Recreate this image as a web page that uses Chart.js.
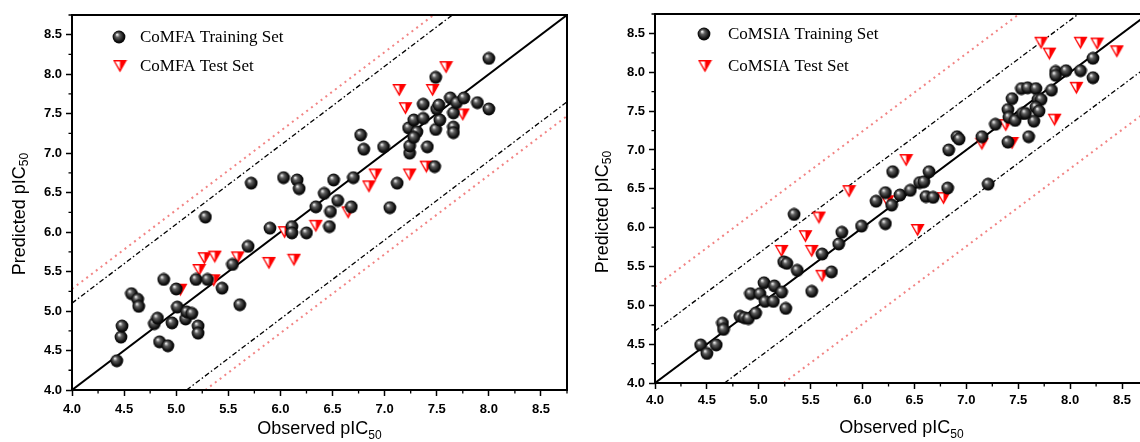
<!DOCTYPE html>
<html>
<head>
<meta charset="utf-8">
<script src="https://cdn.jsdelivr.net/npm/chart.js@4.4.0/dist/chart.umd.min.js"></script>
<style>
  html, body { margin: 0; padding: 0; background: #fff; }
  body { width: 1140px; height: 442px; overflow: hidden; position: relative; }
  .panel { position: absolute; top: 0; width: 580px; height: 442px; }
</style>
</head>
<body>
<div class="panel" style="left:0"><canvas id="comfa" width="580" height="442"></canvas></div>
<div class="panel" style="left:580px"><canvas id="comsia" width="580" height="442"></canvas></div>
<script>
// axis range and tick labels (both panels)
const axisMin = 4.0;
const axisMax = 8.75;
const tickValues = [4.0, 4.5, 5.0, 5.5, 6.0, 6.5, 7.0, 7.5, 8.0, 8.5];

// CoMFA: observed vs predicted pIC50
const comfaTrainObs = [4.43, 4.47, 4.48, 4.57, 4.63, 4.64, 4.79, 4.82, 4.84, 4.92, 4.88, 4.96, 5.00, 5.01, 5.09, 5.10, 5.15, 5.21, 5.21, 5.19, 5.28, 5.30, 5.44, 5.54, 5.61, 5.69, 5.72, 5.90, 6.03, 6.11, 6.11, 6.16, 6.18, 6.25, 6.34, 6.42, 6.48, 6.47, 6.55, 6.51, 6.68, 6.70, 7.05, 7.12, 6.77, 6.80, 6.99, 7.24, 7.24, 7.41, 7.48, 7.23, 7.28, 7.31, 7.37, 7.28, 7.49, 7.53, 7.50, 7.52, 7.37, 7.49, 7.63, 7.66, 7.66, 7.66, 7.69, 7.76, 7.89, 8.00, 8.00];
const comfaTrainPred = [4.37, 4.67, 4.81, 5.22, 5.15, 5.06, 4.84, 4.91, 4.61, 4.56, 5.40, 4.85, 5.28, 5.05, 4.90, 4.99, 4.97, 4.81, 4.72, 5.40, 6.19, 5.40, 5.29, 5.59, 5.08, 5.82, 6.62, 6.05, 6.69, 6.07, 5.99, 6.66, 6.55, 5.99, 6.32, 6.49, 6.26, 6.07, 6.40, 6.66, 6.32, 6.69, 6.31, 6.62, 7.23, 7.05, 7.08, 7.00, 7.09, 7.08, 6.83, 7.32, 7.42, 7.27, 7.44, 7.20, 7.30, 7.42, 7.56, 7.61, 7.62, 7.96, 7.70, 7.51, 7.33, 7.26, 7.64, 7.70, 7.64, 7.56, 8.20];
const comfaTestObs = [5.04, 5.22, 5.27, 5.37, 5.36, 5.59, 5.89, 6.13, 6.04, 6.34, 6.65, 6.91, 6.85, 7.24, 7.40, 7.20, 7.14, 7.46, 7.59, 7.75];
const comfaTestPred = [5.27, 5.52, 5.67, 5.69, 5.39, 5.68, 5.61, 5.65, 6.00, 6.08, 6.25, 6.73, 6.58, 6.73, 6.83, 7.57, 7.80, 7.80, 8.09, 7.49];

// CoMSIA: observed vs predicted pIC50
const comsiaTrainObs = [4.44, 4.50, 4.59, 4.65, 4.66, 4.82, 4.86, 4.90, 4.97, 4.92, 5.01, 5.05, 5.06, 5.14, 5.15, 5.22, 5.26, 5.24, 5.27, 5.34, 5.37, 5.51, 5.61, 5.70, 5.77, 5.80, 5.99, 6.13, 6.22, 6.22, 6.28, 6.29, 6.36, 6.46, 6.55, 6.59, 6.64, 6.61, 6.68, 6.82, 6.83, 6.91, 6.93, 7.21, 7.15, 7.28, 7.40, 7.60, 7.40, 7.44, 7.41, 7.47, 7.54, 7.53, 7.59, 7.67, 7.69, 7.72, 7.67, 7.70, 7.65, 7.57, 7.82, 7.86, 7.86, 7.96, 8.10, 8.22, 8.22];
const comsiaTrainPred = [4.49, 4.38, 4.49, 4.77, 4.69, 4.86, 4.84, 4.83, 4.90, 5.15, 5.15, 5.29, 5.05, 5.05, 5.25, 5.17, 4.96, 5.56, 5.54, 6.17, 5.45, 5.18, 5.66, 5.43, 5.79, 5.94, 6.02, 6.34, 6.45, 6.05, 6.29, 6.72, 6.42, 6.48, 6.58, 6.59, 6.72, 6.40, 6.39, 6.51, 7.00, 7.17, 7.14, 6.56, 7.17, 7.33, 7.10, 7.17, 7.52, 7.66, 7.42, 7.38, 7.47, 7.79, 7.80, 7.79, 7.65, 7.65, 7.55, 7.50, 7.37, 7.47, 7.77, 8.01, 7.96, 8.02, 8.02, 8.18, 7.93];
const comsiaTestObs = [5.22, 5.45, 5.51, 5.58, 5.61, 5.87, 6.24, 6.42, 6.78, 6.53, 7.15, 7.38, 7.44, 7.85, 7.72, 7.80, 8.06, 8.10, 8.26, 8.45];
const comsiaTestPred = [5.70, 5.89, 5.70, 6.13, 5.38, 6.47, 6.34, 6.87, 6.38, 5.97, 7.08, 7.32, 7.09, 7.39, 8.38, 8.24, 7.80, 8.38, 8.37, 8.27];

// offsets of the band lines from y = x
const comfaBands = [1.10, 1.28];
const comsiaBands = [0.67, 1.24];

// marker images
function makeSphere() {
    const c = document.createElement('canvas');
    c.width = 14; c.height = 14;
    const g = c.getContext('2d');
    const grad = g.createRadialGradient(5, 4.5, 0.3, 7, 7, 6.8);
    grad.addColorStop(0, '#f2f2f2');
    grad.addColorStop(0.3, '#606060');
    grad.addColorStop(0.75, '#111');
    grad.addColorStop(1, '#000');
    g.fillStyle = grad;
    g.beginPath();
    g.arc(7, 7, 6.4, 0, Math.PI * 2);
    g.fill();
    return c;
}

function makeTriangle() {
    const c = document.createElement('canvas');
    c.width = 15; c.height = 14;
    const g = c.getContext('2d');
    g.fillStyle = '#ff0000';
    g.beginPath();
    g.moveTo(0.5, 1); g.lineTo(14.5, 1); g.lineTo(7.5, 13.5);
    g.closePath();
    g.fill();
    g.fillStyle = '#ffffff';
    g.beginPath();
    g.moveTo(2.7, 2.4); g.lineTo(7.5, 2.4); g.lineTo(7.5, 10.6);
    g.closePath();
    g.fill();
    return c;
}

const sphere = makeSphere();
const triangle = makeTriangle();

function toPoints(xs, ys) {
    return xs.map((x, i) => ({ x: x, y: ys[i] }));
}

function bandLine(d, upper, color, dash, width) {
    const pts = upper
        ? [{ x: axisMin, y: axisMin + d }, { x: axisMax - d, y: axisMax }]
        : [{ x: axisMin + d, y: axisMin }, { x: axisMax, y: axisMax - d }];
    return {
        data: pts, showLine: true, pointRadius: 0, borderColor: color,
        borderWidth: width, borderDash: dash, order: 2
    };
}

// frame, minor ticks, axis titles and legend
const decorations = {
    id: 'decorations',
    afterDraw(chart, args, opts) {
        const ctx = chart.ctx;
        const a = chart.chartArea;
        const xs = chart.scales.x, ys = chart.scales.y;
        ctx.save();

        // minor ticks
        ctx.strokeStyle = '#000';
        ctx.lineWidth = 1.3;
        for (let v = axisMin + 0.25; v <= axisMax; v += 0.5) {
            const px = xs.getPixelForValue(v);
            const py = ys.getPixelForValue(v);
            ctx.beginPath();
            ctx.moveTo(px, a.bottom); ctx.lineTo(px, a.bottom + 3.5);
            ctx.moveTo(a.left, py); ctx.lineTo(a.left - 3.5, py);
            ctx.stroke();
        }

        // frame
        ctx.lineWidth = 2;
        ctx.strokeRect(a.left, a.top, a.right - a.left, a.bottom - a.top);

        // x title
        ctx.fillStyle = '#000';
        ctx.textBaseline = 'alphabetic';
        ctx.font = '18px "Liberation Sans", Arial, sans-serif';
        const main = 'Observed pIC';
        const wMain = ctx.measureText(main).width;
        ctx.font = '12px "Liberation Sans", Arial, sans-serif';
        const wSub = ctx.measureText('50').width;
        let x0 = (a.left + a.right) / 2 - (wMain + wSub) / 2;
        ctx.font = '18px "Liberation Sans", Arial, sans-serif';
        ctx.textAlign = 'left';
        ctx.fillText(main, x0, opts.xTitleY);
        ctx.font = '12px "Liberation Sans", Arial, sans-serif';
        ctx.fillText('50', x0 + wMain, opts.xTitleY + 5);

        // y title
        ctx.save();
        ctx.translate(opts.yTitleX, opts.yTitleMid);
        ctx.rotate(-Math.PI / 2);
        ctx.textBaseline = 'middle';
        ctx.font = '18px "Liberation Sans", Arial, sans-serif';
        const yMain = 'Predicted pIC';
        const wyMain = ctx.measureText(yMain).width;
        const y0 = -(wyMain + wSub) / 2;
        ctx.fillText(yMain, y0, 0);
        ctx.font = '12px "Liberation Sans", Arial, sans-serif';
        ctx.fillText('50', y0 + wyMain, 5);
        ctx.restore();

        // legend
        ctx.font = '17px "Liberation Serif", "Times New Roman", serif';
        ctx.textBaseline = 'middle';
        opts.legend.forEach(item => {
            ctx.drawImage(item.img, item.x - item.img.width / 2, item.y - item.img.height / 2);
            ctx.fillText(item.text, opts.legendTextX, item.y + 1);
        });
        ctx.restore();
    }
};

function axis(size, isX, pad) {
    return {
        type: 'linear',
        min: axisMin,
        max: axisMax,
        afterBuildTicks: s => { s.ticks = tickValues.map(v => ({ value: v })); },
        afterFit: s => { if (isX) s.height = size; else s.width = size; },
        ticks: {
            callback: v => v.toFixed(1),
            color: '#000',
            padding: pad,
            autoSkip: false,
            maxRotation: 0,
            font: { family: '"Liberation Sans", Arial, sans-serif', size: 13, weight: 'bold' }
        },
        grid: {
            drawOnChartArea: false, drawTicks: true, tickLength: 6,
            tickColor: '#000', tickWidth: 1.5
        },
        border: { display: false }
    };
}

function makeChart(id, name, train, test, bands, geo) {
    new Chart(document.getElementById(id), {
        type: 'scatter',
        data: {
            datasets: [
                { data: toPoints(train[0], train[1]), pointStyle: sphere, order: 0 },
                { data: toPoints(test[0], test[1]), pointStyle: triangle, order: 0 },
                { data: [{ x: axisMin, y: axisMin }, { x: axisMax, y: axisMax }], showLine: true,
                  pointRadius: 0, borderColor: '#000', borderWidth: 2, order: 1 },
                bandLine(bands[0], true, '#000', [5, 2.5, 1.5, 2.5], 1.3),
                bandLine(bands[0], false, '#000', [5, 2.5, 1.5, 2.5], 1.3),
                bandLine(bands[1], true, 'rgba(240,110,110,0.85)', [2, 4], 2),
                bandLine(bands[1], false, 'rgba(240,110,110,0.85)', [2, 4], 2)
            ]
        },
        options: {
            responsive: false,
            animation: false,
            events: [],
            devicePixelRatio: 1,
            layout: { padding: { top: geo.top, right: geo.right, left: 0, bottom: 0 } },
            scales: {
                x: axis(geo.xh, true, geo.xpad),
                y: axis(geo.yw, false, 4)
            },
            plugins: {
                legend: { display: false },
                tooltip: { enabled: false },
                decorations: {
                    xTitleY: geo.xTitleY,
                    yTitleX: geo.yTitleX,
                    yTitleMid: geo.yTitleMid,
                    legendTextX: geo.legendTextX,
                    legend: [
                        { img: sphere, x: geo.legendX, y: geo.legendY[0], text: name + ' Training Set' },
                        { img: triangle, x: geo.legendX + 1, y: geo.legendY[1], text: name + ' Test Set' }
                    ]
                }
            }
        },
        plugins: [decorations]
    });
}

makeChart('comfa', 'CoMFA', [comfaTrainObs, comfaTrainPred], [comfaTestObs, comfaTestPred], comfaBands,
    { top: 15, right: 13, xh: 52, yw: 72, xpad: 6, xTitleY: 434, yTitleX: 20, yTitleMid: 214,
      legendX: 119, legendY: [37, 66], legendTextX: 140 });

makeChart('comsia', 'CoMSIA', [comsiaTrainObs, comsiaTrainPred], [comsiaTestObs, comsiaTestPred], comsiaBands,
    { top: 14, right: 12, xh: 59, yw: 75, xpad: 4, xTitleY: 433, yTitleX: 23, yTitleMid: 212,
      legendX: 124, legendY: [34, 66], legendTextX: 148 });
</script>
</body>
</html>
